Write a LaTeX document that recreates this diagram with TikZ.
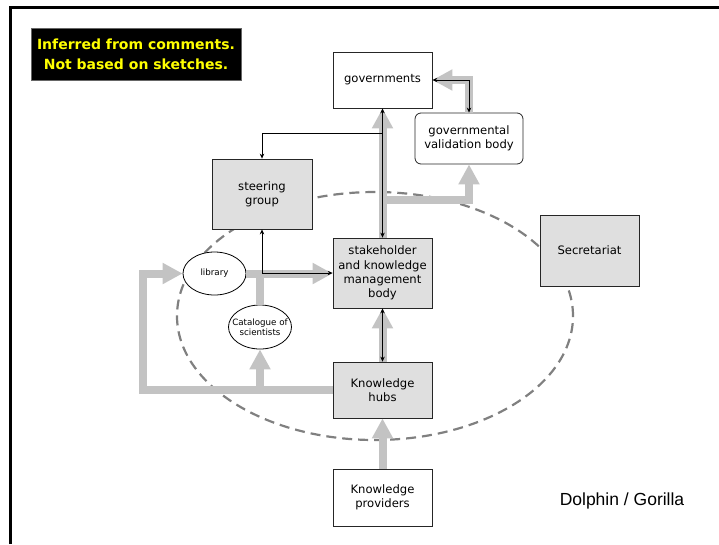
\documentclass[tikz,border=0pt]{standalone}
\usepackage{fontspec}
\setmainfont{DejaVu Sans}
\newfontfamily\arialfont{Liberation Sans}
\usetikzlibrary{arrows.meta,backgrounds,shapes.geometric}
\definecolor{boxfill}{HTML}{DFDFDF}
\definecolor{flowgray}{HTML}{C3C3C3}
\definecolor{ringgray}{HTML}{808080}
\definecolor{noteyellow}{HTML}{FFFF00}

\begin{document}
\begin{tikzpicture}[x=1pt,y=-1pt,
  unit/.style={draw=black!85, line width=0.8pt, fill=boxfill, align=center,
    inner sep=0pt, font=\fontsize{11.6}{14.3}\selectfont},
  plainbox/.style={unit, fill=white},
  oval/.style={ellipse, draw=black, line width=0.8pt, fill=white, align=center,
    inner xsep=-12pt, inner ysep=0pt, font=\fontsize{8.7}{10}\selectfont},
  flow/.style={draw=flowgray, line width=8pt, line join=miter,
    -{Triangle[length=20pt,width=20pt]}},
  flowline/.style={draw=flowgray, line width=8pt},
  tip/.tip={Stealth[length=5pt,width=4.5pt]},
  link/.style={draw=black, line width=0.8pt, tip-tip},
  onelink/.style={draw=black, line width=0.8pt, -tip},
  ring/.style={draw=ringgray, line width=2.2pt, dash pattern=on 10pt off 6pt},
]
\useasboundingbox (0,0) rectangle (719,544);

% page frame (top and left edges)
\draw[line width=3pt] (10,544) -- (10,7) -- (719,7);

% note
\node[fill=black, draw=black!60, minimum width=210pt, minimum height=52pt,
  align=center, inner sep=0pt, text=noteyellow,
  font=\bfseries\fontsize{14}{20}\selectfont] (note) at (136,54)
  {Inferred from comments.\\Not based on sketches.};

% organisational units
\node[plainbox, minimum width=99pt, minimum height=56pt] (gov) at (382.5,80) {governments};
\node[plainbox, rounded corners=6pt, minimum width=108pt, minimum height=51pt] (val)
  at (469,138.5) {governmental\\validation body};
\node[unit, minimum width=100pt, minimum height=70pt] (steer) at (262,194) {steering\\group};
\node[unit, minimum width=99pt, minimum height=70pt] (skmb) at (382.5,273)
  {stakeholder\\and knowledge\\management\\body};
\node[unit, minimum width=99pt, minimum height=56pt] (hubs) at (382.5,390) {Knowledge\\hubs};
\node[plainbox, minimum width=99pt, minimum height=57pt] (prov) at (382.5,497.5)
  {Knowledge\\providers};
\node[unit, minimum width=99pt, minimum height=71pt] (secr) at (589.5,250.5) {Secretariat};
\node[oval, minimum width=63pt, minimum height=43pt] (lib) at (214.5,273.5) {library};
\node[oval, minimum width=63pt, minimum height=44pt] (cat) at (260,327)
  {Catalogue of\\scientists};

\node[font=\arialfont\fontsize{17.5}{20}\selectfont] (brand) at (622,501) {Dolphin / Gorilla};

% dashed boundary of the process
\begin{scope}[on background layer]
  \draw[ring] (375,316) ellipse [x radius=198pt, y radius=124pt];
\end{scope}

% junction points on the flows
\coordinate (upfork) at (382.5,200);
\coordinate (loopcorner) at (143,390);
\coordinate (catfork) at (260,390);
\coordinate (libjoin) at (260,273.5);
\coordinate (steerfork) at (382.5,133);

% grey information flows
\draw[flow] (prov.north) -- (hubs.south);
\draw[flow] (hubs.north) -- (skmb.south);
\draw[flow] (skmb.north) -- (gov.south);
\draw[flow] (upfork) -| (val.south);
\draw[flow] (val.north) |- (gov.east);
\draw[flow] (hubs.west |- loopcorner) -- (loopcorner) |- (lib.west);
\draw[flow] (catfork) -- (cat.south);
\draw[flow] (lib.east) -- (lib.east -| skmb.west);
\draw[flowline] (cat.north) -- (libjoin);

% black reporting lines
\draw[link] (skmb.north) -- (gov.south);
\draw[link] (skmb.south) -- (hubs.north);
\draw[link] (gov.east) -| (val.north);
\draw[onelink] (steerfork) -| (steer.north);
\draw[link] (steer.south) |- (skmb.west);
\end{tikzpicture}
\end{document}
